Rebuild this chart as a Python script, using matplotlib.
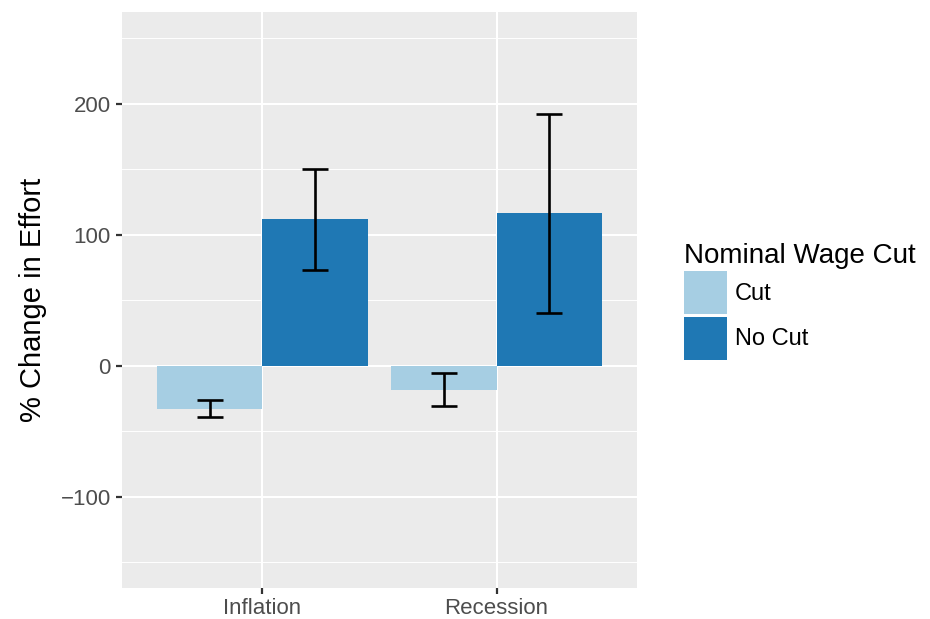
import numpy as np
import matplotlib.pyplot as plt
from matplotlib.patches import Patch

plt.rcParams['font.family'] = ['Liberation Sans', 'DejaVu Sans']

# data
scenarios = ["Inflation", "Recession"]
groups = ["Cut", "No Cut"]
means = {"Cut": [-32.8, -18.3], "No Cut": [112.2, 116.8]}
err_low = {"Cut": [-39.0, -30.5], "No Cut": [73.3, 40.5]}
err_high = {"Cut": [-26.0, -5.3], "No Cut": [150.4, 192.4]}
colors = {"Cut": "#A6CEE3", "No Cut": "#1F78B4"}

fig = plt.figure(figsize=(9.3, 6.19), dpi=100)
ax = fig.add_axes([122 / 930, 1 - 588 / 619, (637 - 122) / 930, (588 - 12) / 619])
ax.set_facecolor("#EBEBEB")

x = np.arange(1, len(scenarios) + 1)
bw = 0.45
offsets = {"Cut": -bw / 2, "No Cut": bw / 2}
for g in groups:
    xs = x + offsets[g]
    ax.bar(xs, means[g], width=bw, color=colors[g], zorder=2)
    lo = np.array(err_low[g])
    hi = np.array(err_high[g])
    ax.vlines(xs, lo, hi, color="black", lw=1.9, zorder=3)
    cw = bw * 0.125
    ax.hlines(lo, xs - cw, xs + cw, color="black", lw=1.9, zorder=3)
    ax.hlines(hi, xs - cw, xs + cw, color="black", lw=1.9, zorder=3)

ax.set_xlim(0.4, 2.6)
ax.set_ylim(-169.5, 270.2)
ax.set_yticks([-100, 0, 100, 200])
ax.set_yticklabels(["\u2212100", "0", "100", "200"])
ax.set_yticks([-150, -50, 50, 150, 250], minor=True)
ax.set_xticks(x)
ax.set_xticklabels(scenarios)
ax.grid(True, which="major", color="white", lw=1.5, zorder=0)
ax.grid(True, which="minor", axis="y", color="white", lw=0.7, zorder=0)
ax.set_axisbelow(True)
for s in ax.spines.values():
    s.set_visible(False)
ax.tick_params(axis="both", which="major", colors="#333333", labelcolor="#4D4D4D",
               labelsize=16, length=4.5, width=1.6, pad=3.5)
ax.tick_params(axis="x", pad=2.5)
ax.tick_params(axis="y", which="minor", length=0)
ax.set_ylabel("% Change in Effort", fontsize=21, labelpad=10)

handles = [Patch(facecolor=colors[g], edgecolor="none", label=g) for g in groups]
leg = fig.legend(handles=handles, title="Nominal Wage Cut", loc="upper left",
                 bbox_to_anchor=(665 / 930, 1 - 224 / 619), frameon=False,
                 fontsize=17, title_fontsize=20, handlelength=1.82,
                 handleheight=2.43, handletextpad=0.35, labelspacing=0.1,
                 borderpad=0.3)
leg._legend_box.align = "left"

fig.savefig("out.png", dpi=100)
